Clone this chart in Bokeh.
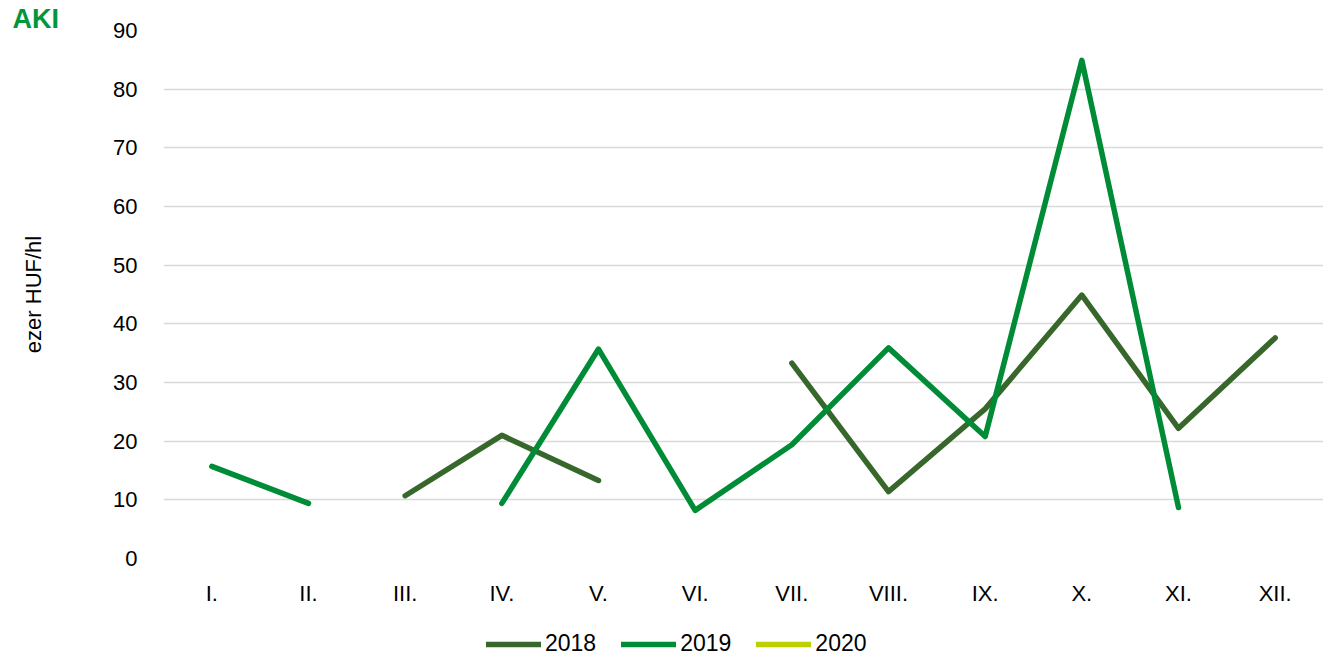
import math
from bokeh.plotting import figure
from bokeh.layouts import column
from bokeh.models import (ColumnDataSource, FactorRange, Range1d, Legend, LegendItem,
                          FixedTicker)
from bokeh.embed import file_html
from bokeh.resources import INLINE

nan = float("nan")
months = ["I.", "II.", "III.", "IV.", "V.", "VI.", "VII.", "VIII.", "IX.", "X.", "XI.", "XII."]
y2018 = [nan, nan, 10.7, 21.0, 13.3, nan, 33.3, 11.4, 25.5, 44.9, 22.2, 37.6]
y2019 = [15.7, 9.4, nan, 9.4, 35.7, 8.2, 19.4, 35.9, 20.8, 84.9, 8.7, nan]
y2020 = [nan] * 12
series_names = ["2018", "2019", "2020"]
colors = ["#38672c", "#008c37", "#bdd000"]

FONT = "Liberation Sans"
FS = "22px"
LW = 5.5

p = figure(x_range=FactorRange(*months), y_range=Range1d(0, 90),
           width=1323, height=608, output_backend="svg", toolbar_location=None,
           min_border_left=163, min_border_right=0, min_border_top=30, min_border_bottom=49)
p.outline_line_color = None
p.background_fill_color = "white"

# logo-like title
p.title.text = "AKI"
p.title.text_font = FONT
p.title.text_font_size = "27px"
p.title.text_font_style = "bold"
p.title.text_color = "#009640"
p.title.align = "left"
p.title.offset = -151
p.title.standoff = -6

src = ColumnDataSource(dict(m=months, a=y2018, b=y2019, c=y2020))
for col, c in zip(["a", "b", "c"], colors):
    p.line("m", col, source=src, line_color=c, line_width=LW, line_cap="round", line_join="round")

p.yaxis.ticker = FixedTicker(ticks=list(range(0, 100, 10)))
p.ygrid.ticker = FixedTicker(ticks=list(range(0, 100, 10)))
p.ygrid.grid_line_color = "#d9d9d9"
p.ygrid.grid_line_width = 1.5
p.xgrid.grid_line_color = None

for ax in (p.xaxis[0], p.yaxis[0]):
    ax.axis_line_color = None
    ax.major_tick_line_color = None
    ax.minor_tick_line_color = None
    ax.major_label_text_font = FONT
    ax.major_label_text_font_size = FS
    ax.major_label_text_color = "#000000"
p.yaxis.major_label_standoff = 20
p.xaxis.major_label_standoff = 16
p.yaxis.axis_label = "ezer HUF/hl"
p.yaxis.axis_label_text_font = FONT
p.yaxis.axis_label_text_font_size = FS
p.yaxis.axis_label_text_font_style = "normal"
p.yaxis.axis_label_text_color = "#000000"
p.yaxis.axis_label_standoff = 64

# legend strip (same series, drawn outside its visible range so only the legend shows)
lf = figure(width=1323, height=49, output_backend="svg", toolbar_location=None,
            x_range=FactorRange(*months), y_range=Range1d(500, 600),
            min_border_left=163, min_border_right=0, min_border_top=0, min_border_bottom=0)
lf.axis.visible = False
lf.grid.visible = False
lf.outline_line_color = None
lrs = [lf.line("m", col, source=src, line_color=c, line_width=LW, line_cap="round")
       for col, c in zip(["a", "b", "c"], colors)]
legend = Legend(items=[LegendItem(label=n, renderers=[r]) for n, r in zip(series_names, lrs)],
                orientation="horizontal", location=(323, 0),
                label_text_font=FONT, label_text_font_size="23px", label_text_color="#000000",
                glyph_width=55, glyph_height=24, label_standoff=4, spacing=25,
                border_line_color=None, background_fill_alpha=0, padding=0, margin=0)
lf.add_layout(legend)

layout = column(p, lf, spacing=0)
open("out.html", "w").write(file_html(layout, INLINE))
